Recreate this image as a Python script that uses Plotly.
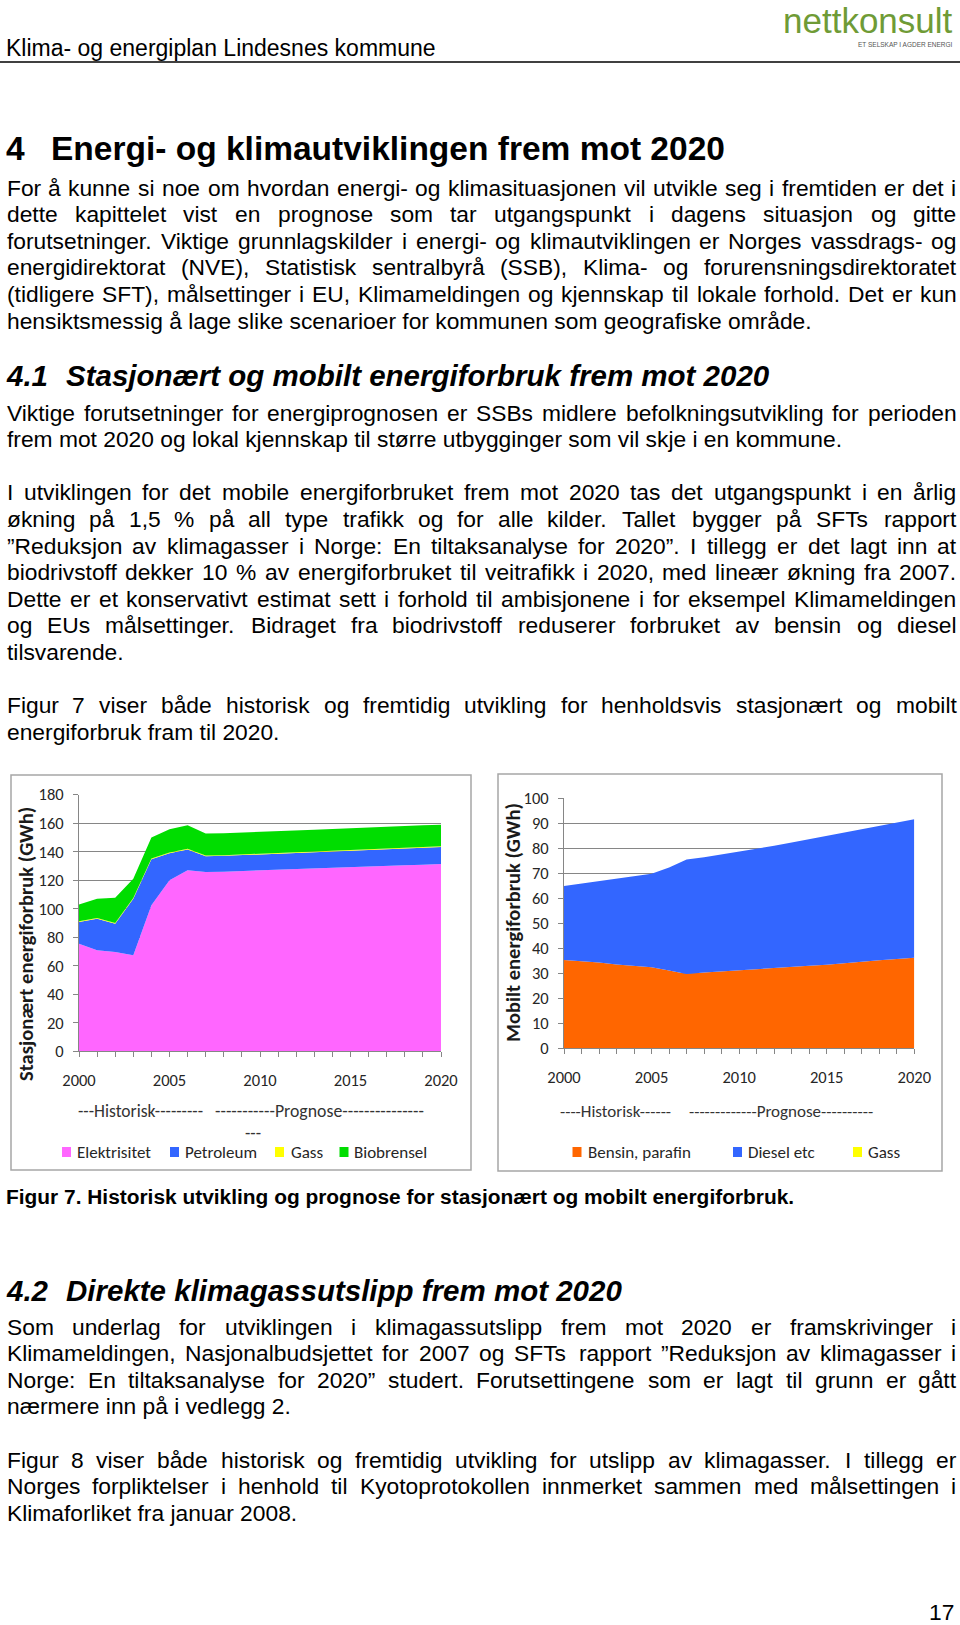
import plotly.graph_objects as go

# ---------------- data ----------------
years = [2000, 2001, 2002, 2003, 2004, 2005, 2006, 2007, 2008, 2009, 2010,
         2011, 2012, 2013, 2014, 2015, 2016, 2017, 2018, 2019, 2020]

# Stasjonært energiforbruk (GWh)
elektrisitet = [75.5, 70.8, 69.7, 67.3, 102.4, 120.0, 127.0, 125.8, 126.0, 126.5, 127.0,
                127.4, 127.8, 128.2, 128.7, 129.1, 129.6, 130.0, 130.5, 130.9, 131.4]
petroleum = [15.2, 22.2, 19.8, 39.7, 32.3, 19.0, 14.5, 11.0, 11.1, 11.2, 11.3,
             11.3, 11.4, 11.5, 11.5, 11.6, 11.7, 11.7, 11.8, 11.9, 11.9]
gass_stas = [0.5, 0.5, 0.5, 0.5, 0.5, 0.5, 0.5, 0.5, 0.5, 0.5, 0.5,
             0.5, 0.5, 0.5, 0.5, 0.5, 0.5, 0.5, 0.5, 0.5, 0.5]
biobrensel = [11.8, 13.5, 17.8, 13.5, 14.8, 16.2, 16.5, 15.4, 15.4, 15.4, 15.3,
              15.3, 15.3, 15.3, 15.3, 15.2, 15.2, 15.2, 15.2, 15.2, 15.2]

# Mobilt energiforbruk (GWh)
bensin = [35.2, 34.8, 34.2, 33.4, 32.8, 32.3, 31.0, 29.6, 30.2, 30.7, 31.1,
          31.5, 32.0, 32.5, 32.9, 33.3, 34.0, 34.6, 35.1, 35.6, 36.1]
diesel = [29.6, 31.0, 32.6, 34.3, 35.9, 37.4, 41.2, 45.8, 46.1, 46.7, 47.5,
          48.2, 48.9, 49.7, 50.6, 51.5, 52.1, 52.9, 53.7, 54.4, 55.4]
gass_mob = [0.0, 0.0, 0.0, 0.0, 0.0, 0.0, 0.0, 0.0, 0.0, 0.0, 0.0,
            0.0, 0.0, 0.0, 0.0, 0.0, 0.0, 0.0, 0.0, 0.0, 0.0]

stas_names = ["Elektrisitet", "Petroleum", "Gass", "Biobrensel"]
stas_colors = ["#ff66ff", "#3366ff", "#ffff00", "#00dd00"]
mob_names = ["Bensin, parafin", "Diesel etc", "Gass"]
mob_colors = ["#ff6600", "#3366ff", "#ffff00"]

stas_ticks = [0, 20, 40, 60, 80, 100, 120, 140, 160, 180]
mob_ticks = [0, 10, 20, 30, 40, 50, 60, 70, 80, 90, 100]
year_ticks = [2000, 2005, 2010, 2015, 2020]

# ---------------- page text ----------------
header_title = "Klima- og energiplan Lindesnes kommune"
logo_text = "nettkonsult"
logo_sub = "ET SELSKAP I AGDER ENERGI"

para1 = [
    ("For å kunne si noe om hvordan energi- og klimasituasjonen vil utvikle seg i fremtiden er det i", True),
    ("dette kapittelet vist en prognose som tar utgangspunkt i dagens situasjon og gitte", True),
    ("forutsetninger. Viktige grunnlagskilder i energi- og klimautviklingen er Norges vassdrags- og", True),
    ("energidirektorat (NVE), Statistisk sentralbyrå (SSB), Klima- og forurensningsdirektoratet", True),
    ("(tidligere SFT), målsettinger i EU, Klimameldingen og kjennskap til lokale forhold. Det er kun", True),
    ("hensiktsmessig å lage slike scenarioer for kommunen som geografiske område.", False),
]
para41 = [
    ("Viktige forutsetninger for energiprognosen er SSBs midlere befolkningsutvikling for perioden", True),
    ("frem mot 2020 og lokal kjennskap til større utbygginger som vil skje i en kommune.", False),
    None,
    ("I utviklingen for det mobile energiforbruket frem mot 2020 tas det utgangspunkt i en årlig", True),
    ("økning på 1,5 % på all type trafikk og for alle kilder. Tallet bygger på SFTs rapport", True),
    ("”Reduksjon av klimagasser i Norge: En tiltaksanalyse for 2020”. I tillegg er det lagt inn at", True),
    ("biodrivstoff dekker 10 % av energiforbruket til veitrafikk i 2020, med lineær økning fra 2007.", True),
    ("Dette er et konservativt estimat sett i forhold til ambisjonene i for eksempel Klimameldingen", True),
    ("og EUs målsettinger. Bidraget fra biodrivstoff reduserer forbruket av bensin og diesel", True),
    ("tilsvarende.", False),
    None,
    ("Figur 7 viser både historisk og fremtidig utvikling for henholdsvis stasjonært og mobilt", True),
    ("energiforbruk fram til 2020.", False),
]
para42 = [
    ("Som underlag for utviklingen i klimagassutslipp frem mot 2020 er framskrivinger i", True),
    ("Klimameldingen, Nasjonalbudsjettet for 2007 og SFTs rapport ”Reduksjon av klimagasser i", True),
    ("Norge: En tiltaksanalyse for 2020” studert. Forutsettingene som er lagt til grunn er gått", True),
    ("nærmere inn på i vedlegg 2.", False),
    None,
    ("Figur 8 viser både historisk og fremtidig utvikling for utslipp av klimagasser. I tillegg er", True),
    ("Norges forpliktelser i henhold til Kyotoprotokollen innmerket sammen med målsettingen i", True),
    ("Klimaforliket fra januar 2008.", False),
]
caption = "Figur 7. Historisk utvikling og prognose for stasjonært og mobilt energiforbruk."

# ---------------- helpers ----------------
W, H = 960, 1625


def px(x):
    return x / W


def py(y):
    return 1 - y / H


AR = {' ': 278, 'a': 556, 'b': 556, 'c': 500, 'd': 556, 'e': 556, 'f': 278, 'g': 556, 'h': 556,
      'i': 222, 'j': 222, 'k': 500, 'l': 222, 'm': 833, 'n': 556, 'o': 556, 'p': 556, 'q': 556,
      'r': 333, 's': 500, 't': 278, 'u': 556, 'v': 500, 'w': 722, 'x': 500, 'y': 500, 'z': 500,
      'A': 667, 'B': 667, 'C': 722, 'D': 722, 'E': 667, 'F': 611, 'G': 778, 'H': 722, 'I': 278,
      'J': 500, 'K': 667, 'L': 556, 'M': 833, 'N': 722, 'O': 778, 'P': 667, 'Q': 778, 'R': 722,
      'S': 667, 'T': 611, 'U': 722, 'V': 667, 'W': 944, 'X': 667, 'Y': 667, 'Z': 611,
      '.': 278, ',': 278, '-': 333, '(': 333, ')': 333, ':': 278, '%': 889, '”': 333,
      'æ': 889, 'ø': 611, 'å': 556, 'Æ': 1000, 'Ø': 778, 'Å': 667}


def tw(s, size):
    return sum(AR.get(c, 556) for c in s) * size / 1000.0


BODYFONT = "Liberation Sans, Arial, sans-serif"
BODY = 22.8
LEFT, RIGHT = 5.5, 955.5
LINE = 26.6

annotations = []


def add_text(text, x, y, size, xanchor="left", color="#000000", family=BODYFONT, angle=0):
    annotations.append(dict(text=text, x=px(x), y=py(y), xref="paper", yref="paper",
                            xanchor=xanchor, yanchor="middle", showarrow=False, borderpad=0,
                            textangle=angle, font=dict(family=family, size=size, color=color)))


def add_line(text, yc, justify):
    if not justify:
        add_text(text, LEFT, yc, BODY)
        return
    words = text.split(" ")
    wsum = sum(tw(w, BODY) for w in words)
    gap = (RIGHT - LEFT - wsum) / (len(words) - 1)
    x = LEFT
    for w in words:
        add_text(w, x, yc, BODY)
        x += tw(w, BODY) + gap


def add_para(lines, y0):
    y = y0
    for item in lines:
        if item is not None:
            add_line(item[0], y, item[1])
        y += LINE


# header
add_text(header_title, 5, 48, 23)
add_text(logo_text, 954, 20.5, 35, xanchor="right", color="#6f9b36")
add_text(logo_sub, 954, 44, 6.5, xanchor="right", color="#555555")

# headings
add_text("<b>4</b>", 5, 148.2, 33.5)
add_text("<b>Energi- og klimautviklingen frem mot 2020</b>", 49.7, 148.2, 33.5)
add_para(para1, 187.6)
add_text("<b><i>4.1</i></b>", 5, 375.2, 29.5)
add_text("<b><i>Stasjonært og mobilt energiforbruk frem mot 2020</i></b>", 65.3, 375.2, 29.5)
add_para(para41, 412.5)
add_text("<b>" + caption + "</b>", 5, 1196, 20.9)
add_text("<b><i>4.2</i></b>", 5, 1290.3, 29.5)
add_text("<b><i>Direkte klimagassutslipp frem mot 2020</i></b>", 65.3, 1290.3, 29.5)
add_para(para42, 1326.6)
add_text("17", 955, 1612, BODY, xanchor="right")

# chart annotations
CFONT = "Carlito, Lato, sans-serif"
add_text("<b>Stasjonært energiforbruk (GWh)</b>", 26, 944, 20.5, xanchor="center",
         color="#1a1a1a", family=CFONT, angle=-90)
add_text("<b>Mobilt energiforbruk (GWh)</b>", 513, 923, 20.5, xanchor="center",
         color="#1a1a1a", family=CFONT, angle=-90)
add_text("---Historisk---------", 77, 1111, 17.5, color="#333333", family=CFONT)
add_text("-----------Prognose---------------", 213.7, 1111, 17.8, color="#333333", family=CFONT)
add_text("---", 253, 1133, 17.5, xanchor="center", color="#333333", family=CFONT)
add_text("----Historisk------", 559, 1111.7, 17, color="#333333", family=CFONT)
add_text("-------------Prognose----------", 687.7, 1111.7, 17, color="#333333", family=CFONT)

shapes = []
# header rule
shapes.append(dict(type="line", xref="paper", yref="paper", x0=px(0), x1=px(960),
                   y0=py(62), y1=py(62), line=dict(color="#000000", width=1.5)))
# chart frames
for (x0, y0, x1, y1) in [(11, 775, 471, 1170), (498, 774, 942, 1171)]:
    shapes.append(dict(type="rect", xref="paper", yref="paper", x0=px(x0), x1=px(x1),
                       y0=py(y1), y1=py(y0), line=dict(color="#a6a6a6", width=1.5),
                       fillcolor="rgba(0,0,0,0)", layer="below"))

# legends (swatch + label)
legend_left = [(62, 76.3), (170, 184), (275, 289.7), (339.5, 353)]
legend_right = [(572.5, 586.7), (733, 746.7), (853, 867.3)]
for (sx, tx), name, col in zip(legend_left, stas_names, stas_colors):
    shapes.append(dict(type="rect", xref="paper", yref="paper", x0=px(sx), x1=px(sx + 9),
                       y0=py(1157), y1=py(1147), line=dict(width=0), fillcolor=col))
    add_text(name, tx, 1152, 17, color="#262626", family=CFONT)
for (sx, tx), name, col in zip(legend_right, mob_names, mob_colors):
    shapes.append(dict(type="rect", xref="paper", yref="paper", x0=px(sx), x1=px(sx + 9),
                       y0=py(1157), y1=py(1147), line=dict(width=0), fillcolor=col))
    add_text(name, tx, 1152, 17, color="#262626", family=CFONT)

# ---------------- figure ----------------
fig = go.Figure()
for vals, name, col in zip([elektrisitet, petroleum, gass_stas, biobrensel], stas_names, stas_colors):
    fig.add_trace(go.Scatter(x=years, y=vals, name=name, stackgroup="stas", mode="lines",
                             line=dict(width=0, color=col), fillcolor=col,
                             xaxis="x", yaxis="y", showlegend=False))
for vals, name, col in zip([bensin, diesel, gass_mob], mob_names, mob_colors):
    fig.add_trace(go.Scatter(x=years, y=vals, name=name, stackgroup="mob", mode="lines",
                             line=dict(width=0, color=col), fillcolor=col,
                             xaxis="x2", yaxis="y2", showlegend=False))

AXC = "#868686"
tickfont = dict(family=CFONT, size=16.5, color="#262626")


def xaxis(domain, anchor):
    return dict(domain=domain, anchor=anchor, range=[2000, 2020], tickvals=year_ticks,
                ticks="outside", ticklen=5, tickcolor=AXC, showline=True, linecolor=AXC,
                showgrid=False, zeroline=False, tickfont=tickfont, ticklabelstandoff=9,
                automargin=False,
                minor=dict(dtick=1, tick0=2000, ticks="outside", ticklen=5, tickcolor=AXC,
                           showgrid=False))


def yaxis(domain, anchor, rng, tv):
    return dict(domain=domain, anchor=anchor, range=rng, tickvals=tv, ticks="outside",
                ticklen=5, tickcolor=AXC, showline=True, linecolor=AXC, showgrid=True,
                gridcolor=AXC, gridwidth=1, zeroline=False, tickfont=tickfont,
                ticklabelstandoff=6, automargin=False)


fig.update_layout(
    width=W, height=H, margin=dict(l=0, r=0, t=0, b=0, pad=0, autoexpand=False),
    paper_bgcolor="white", plot_bgcolor="white", showlegend=False,
    xaxis=xaxis([px(79), px(441)], "y"),
    yaxis=yaxis([py(1051.3), py(794.7)], "x", [0, 180], stas_ticks),
    xaxis2=xaxis([px(564), px(914.3)], "y2"),
    yaxis2=yaxis([py(1048), py(798)], "x2", [0, 100], mob_ticks),
    annotations=annotations, shapes=shapes,
)

fig.write_html(
    "out.html",
    config={"displayModeBar": False},
    post_script="document.body.style.margin='0';"
                "document.body.style.overflow='hidden';"
                "document.documentElement.style.overflow='hidden';",
)
